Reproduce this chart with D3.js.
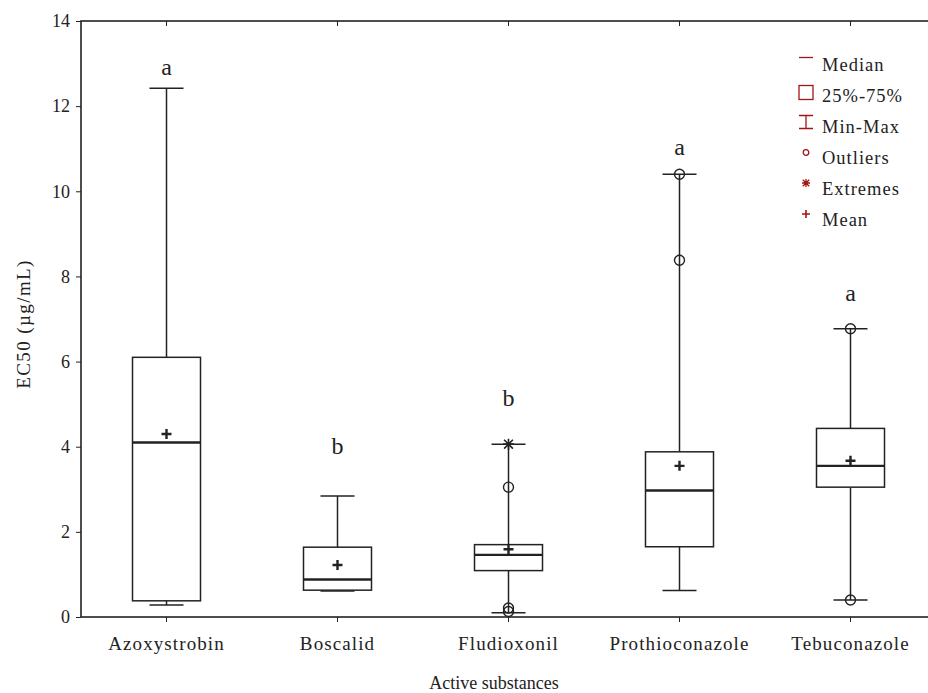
<!DOCTYPE html>
<html lang="en">
<head>
<meta charset="utf-8">
<style>
    body { margin: 0; background: #fff; }
    svg { display: block; }
    text { font-family: "Palatino Linotype", "Book Antiqua", Palatino, "Liberation Serif", serif; fill: #222; }
    .axis path, .axis line { stroke: #222; }
</style>
</head>
<body>
<svg id="chart" width="928" height="693"></svg>
<script src="https://cdn.jsdelivr.net/npm/d3@7"></script>
<script>
    // values
    var categories = ["Azoxystrobin", "Boscalid", "Fludioxonil", "Prothioconazole", "Tebuconazole"];
    var minVals    = [0.28, 0.61, 0.10, 0.62, 0.40];
    var q1Vals     = [0.38, 0.63, 1.09, 1.65, 3.05];
    var medianVals = [4.10, 0.88, 1.46, 2.97, 3.55];
    var q3Vals     = [6.10, 1.64, 1.70, 3.88, 4.43];
    var maxVals    = [12.42, 2.84, 4.06, 10.40, 6.77];
    var meanVals   = [4.30, 1.22, 1.59, 3.55, 3.67];
    var outlierVals = [[], [], [3.05, 0.21, 0.13], [10.40, 8.38], [6.77, 0.40]];
    var extremeVals = [[], [], [4.06], [], []];
    var groupLetters = ["a", "b", "b", "a", "a"];
    var letterLevels = [12.92, 4.03, 5.16, 11.05, 7.62];
    var yTicks = [0, 2, 4, 6, 8, 10, 12, 14];
    var legendItems = ["Median", "25%-75%", "Min-Max", "Outliers", "Extremes", "Mean"];

    var svg = d3.select("#chart");
    var plotLeft = 81, plotTop = 21, plotBottom = 617, plotRight = 936;
    var legendRed = "#a31515";

    var x = d3.scaleBand().domain(categories).range([plotLeft, plotRight]).padding(0);
    var y = d3.scaleLinear().domain([0, 14]).range([plotBottom, plotTop]);
    var cx = function (i) { return x(categories[i]) + x.bandwidth() / 2; };
    var boxW = 68, capW = 34;

    // frame
    svg.append("rect")
        .attr("x", plotLeft).attr("y", plotTop)
        .attr("width", plotRight - plotLeft).attr("height", plotBottom - plotTop)
        .attr("fill", "none").attr("stroke", "#222").attr("stroke-width", 1.6);

    var yAxis = svg.append("g").attr("class", "axis")
        .attr("transform", "translate(" + plotLeft + ",0)")
        .call(d3.axisLeft(y).tickValues(yTicks).tickSize(5).tickPadding(6).tickFormat(d3.format("d")));
    yAxis.select(".domain").remove();
    yAxis.selectAll("text").style("font-size", "18px").attr("fill", "#222");

    var xAxis = svg.append("g").attr("class", "axis")
        .attr("transform", "translate(0," + plotBottom + ")")
        .call(d3.axisBottom(x).tickSize(5).tickPadding(15));
    xAxis.select(".domain").remove();
    xAxis.selectAll("text").style("font-size", "19px").style("letter-spacing", "1.1px").attr("fill", "#222");

    var topAxis = svg.append("g").attr("class", "axis")
        .attr("transform", "translate(0," + plotTop + ")")
        .call(d3.axisBottom(x).tickSize(5).tickFormat(""));
    topAxis.select(".domain").remove();

    // axis titles
    svg.append("text")
        .attr("x", 494).attr("y", 689)
        .attr("text-anchor", "middle")
        .style("font-size", "18px")
        .text("Active substances");

    svg.append("text")
        .attr("transform", "translate(30,324) rotate(-90)")
        .attr("text-anchor", "middle")
        .style("font-size", "19px")
        .style("letter-spacing", "1.4px")
        .text("EC50 (µg/mL)");

    // boxes
    var idx = d3.range(categories.length);
    var g = svg.append("g").attr("stroke", "#222").attr("fill", "none");

    idx.forEach(function (i) {
        var c = cx(i);
        // whiskers
        g.append("line").attr("x1", c).attr("x2", c)
            .attr("y1", y(q3Vals[i])).attr("y2", y(maxVals[i])).attr("stroke-width", 1.5);
        g.append("line").attr("x1", c).attr("x2", c)
            .attr("y1", y(q1Vals[i])).attr("y2", y(minVals[i])).attr("stroke-width", 1.5);
        g.append("line").attr("x1", c - capW / 2).attr("x2", c + capW / 2)
            .attr("y1", y(maxVals[i])).attr("y2", y(maxVals[i])).attr("stroke-width", 1.5);
        g.append("line").attr("x1", c - capW / 2).attr("x2", c + capW / 2)
            .attr("y1", y(minVals[i])).attr("y2", y(minVals[i])).attr("stroke-width", 1.5);
        // box
        g.append("rect")
            .attr("x", c - boxW / 2).attr("y", y(q3Vals[i]))
            .attr("width", boxW).attr("height", y(q1Vals[i]) - y(q3Vals[i]))
            .attr("fill", "#fff").attr("stroke-width", 1.5);
        g.append("line").attr("x1", c - boxW / 2).attr("x2", c + boxW / 2)
            .attr("y1", y(medianVals[i])).attr("y2", y(medianVals[i])).attr("stroke-width", 2.4);
        // mean
        var my = y(meanVals[i]);
        g.append("path").attr("d", "M" + (c - 5) + "," + my + "H" + (c + 5) + "M" + c + "," + (my - 5) + "V" + (my + 5))
            .attr("stroke-width", 2.4);
        // outliers
        outlierVals[i].forEach(function (v) {
            g.append("circle").attr("cx", c).attr("cy", y(v)).attr("r", 5)
                .attr("fill", "none").attr("stroke-width", 1.4);
        });
        // extremes
        extremeVals[i].forEach(function (v) {
            var ey = y(v), s = 5.5, d = s * 0.8;
            g.append("path")
                .attr("d", "M" + c + "," + (ey - s) + "V" + (ey + s) +
                    "M" + (c - d) + "," + (ey - d) + "L" + (c + d) + "," + (ey + d) +
                    "M" + (c - d) + "," + (ey + d) + "L" + (c + d) + "," + (ey - d) +
                    "M" + (c - s) + "," + ey + "H" + (c + s))
                .attr("stroke-width", 1.6);
        });
        // group letters
        svg.append("text")
            .attr("x", c).attr("y", y(letterLevels[i]))
            .attr("dy", "0.35em")
            .attr("text-anchor", "middle")
            .style("font-size", "24px")
            .text(groupLetters[i]);
    });

    // legend
    var lg = svg.append("g").attr("transform", "translate(806,0)");
    var rowY = d3.scalePoint().domain(legendItems).range([71, 226]);
    legendItems.forEach(function (name, i) {
        var b = rowY(name);
        var sym = lg.append("g").attr("stroke", legendRed).attr("fill", "none").attr("stroke-width", 1.3);
        if (i === 0) {
            sym.append("line").attr("x1", -7).attr("x2", 7).attr("y1", b - 13.5).attr("y2", b - 13.5);
        } else if (i === 1) {
            sym.append("rect").attr("x", -7).attr("y", b - 16.5).attr("width", 14).attr("height", 14);
        } else if (i === 2) {
            sym.append("path").attr("d", "M-7," + (b - 17.5) + "H7M0," + (b - 17.5) + "V" + (b - 4.5) + "M-7," + (b - 4.5) + "H7");
        } else if (i === 3) {
            sym.append("circle").attr("cx", 0).attr("cy", b - 11.5).attr("r", 2.8);
        } else if (i === 4) {
            var ey = b - 12, s = 4, d = 3.2;
            sym.append("path").attr("d", "M0," + (ey - s) + "V" + (ey + s) +
                "M" + (-d) + "," + (ey - d) + "L" + d + "," + (ey + d) +
                "M" + (-d) + "," + (ey + d) + "L" + d + "," + (ey - d) +
                "M" + (-s) + "," + ey + "H" + s);
        } else {
            sym.append("path").attr("d", "M-4," + (b - 12) + "H4M0," + (b - 16) + "V" + (b - 8)).attr("stroke-width", 1.6);
        }
        lg.append("text").attr("x", 16).attr("y", b)
            .style("font-size", "18.5px")
            .style("letter-spacing", "1px")
            .text(name);
    });
</script>
</body>
</html>
